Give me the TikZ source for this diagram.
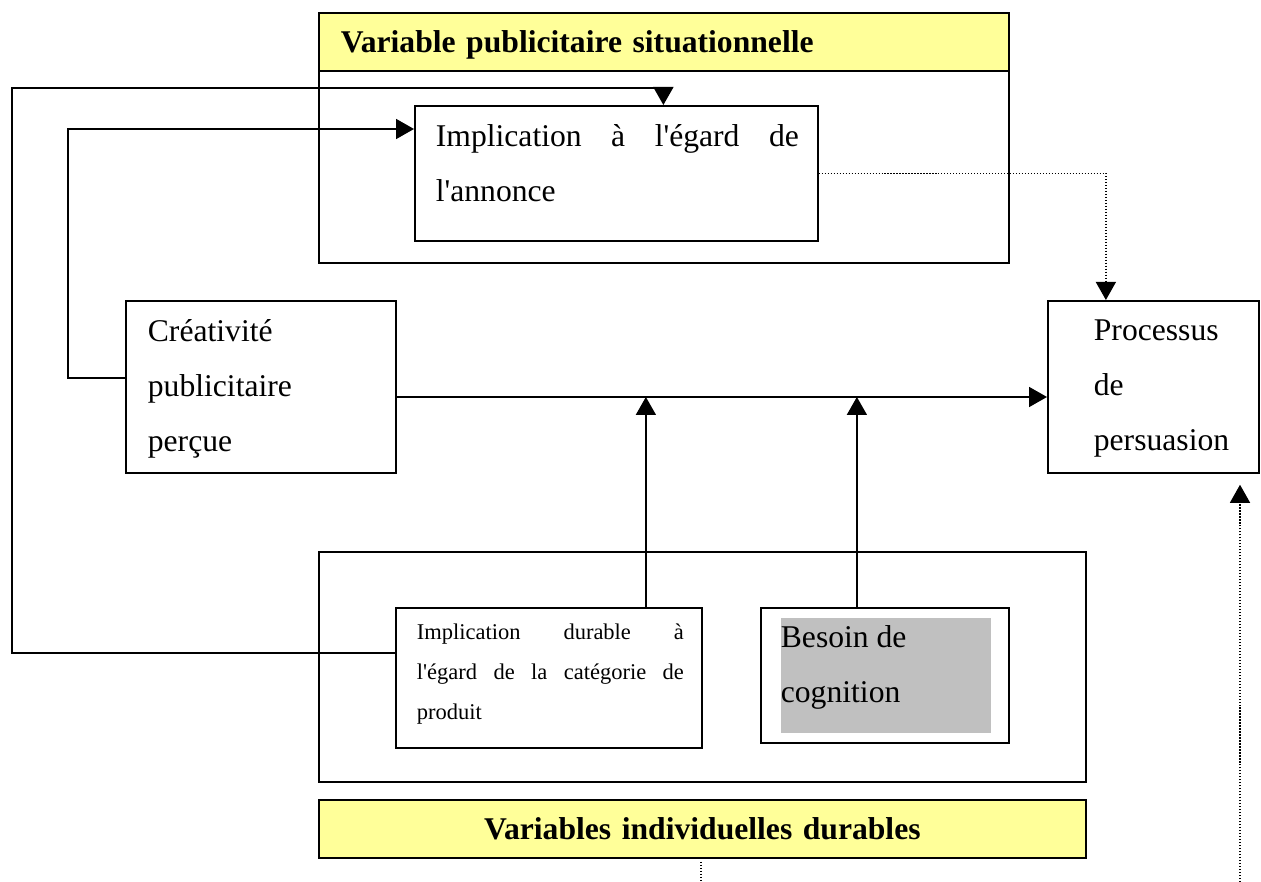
\documentclass[tikz,border=0pt]{standalone}
\usepackage{fontspec}
\setmainfont{Liberation Serif}
\usetikzlibrary{arrows.meta,positioning}
\definecolor{hdryellow}{RGB}{255,255,153}
\definecolor{hlgray}{RGB}{192,192,192}

\begin{document}
\begin{tikzpicture}[x=0.2mm, y=-0.2mm, line width=1pt,
  box/.style={draw, anchor=north west, inner sep=0pt},
  hdr/.style={box, fill=hdryellow, minimum height=11.6mm, inner xsep=4.4mm, text depth=0pt, font=\fontsize{18}{22}\selectfont\bfseries},
  txt/.style={anchor=north west, inner sep=0pt, align=left, font=\fontsize{18}{31.3}\selectfont},
  small/.style={txt, font=\fontsize{12.8}{22.8}\selectfont},
  arr/.style={-{Triangle[length=3.6mm, width=4mm]}},
  dots/.style={densely dotted, line width=0.7pt}]
\useasboundingbox (0,0) rectangle (1261,882);
% situational variable
\node[box, minimum width=138mm, minimum height=50mm] (sit) at (318,12) {};
\node[hdr, text width=129.2mm, align=left] (sithdr) at (318,12) {Variable publicitaire situationnelle};
\node[box, minimum width=80.6mm, minimum height=27mm] (annonce) at (414,105) {};
\node[txt, text width=72.6mm, align=justify] (annoncetxt) at (435,124) {Implication à l\textquotesingle égard de\linebreak l\textquotesingle annonce};
% creativity and persuasion
\node[box, minimum width=54mm, minimum height=34.4mm] (creat) at (125,300) {};
\node[txt] (creattxt) at (147,319) {Créativité\\publicitaire\\perçue};
\node[box, minimum width=42.2mm, minimum height=34.4mm] (proc) at (1047,300) {};
\node[txt] (proctxt) at (1093,319) {Processus\\de\\persuasion};
% individual variables
\node[box, minimum width=153.4mm, minimum height=46mm] (indiv) at (318,551) {};
\node[box, minimum width=61.2mm, minimum height=28mm] (durable) at (395,607) {};
\node[small, text width=53.4mm, align=justify] (durabletxt) at (416,623) {Implication durable à\linebreak l\textquotesingle égard de la catégorie de\linebreak produit};
\node[box, minimum width=49.6mm, minimum height=27mm] (besoin) at (760,607) {};
\node[box, draw=none, fill=hlgray, minimum width=42mm, minimum height=23mm] (besoinbg) at (780,617) {};
\node[txt] (besointxt) at (780,625) {Besoin de\\cognition};
\node[hdr, align=center, text width=144.6mm] (indivhdr) at (318,799) {Variables individuelles durables};
% connectors
\coordinate (fbA) at (12,653);
\coordinate (outerL) at (12,88);
\coordinate (innerB) at (68,378);
\coordinate (innerL) at (68,129);
\coordinate (mainrow) at (0,397);
\draw[arr] (durable.west |- fbA) -- (fbA) -- (outerL) -| ([xshift=9.4mm]annonce.north);
\draw[arr] (creat.west |- innerB) -- (innerB) -- (innerL) -- (annonce.west |- innerL);
\draw[arr] (creat.east |- mainrow) -- (proc.west |- mainrow);
\draw[arr] ([xshift=19.4mm]durable.north) coordinate (durup) -- (durup |- mainrow);
\draw[arr] ([xshift=-5.6mm]besoin.north) coordinate (besup) -- (besup |- mainrow);
\draw[dots, arr] (annonce.east) -| ([xshift=-9.5mm]proc.north);
% loose dotted ends
\coordinate (lowA) at (701,862);
\coordinate (lowB) at (701,882);
\coordinate (lowC) at (1240,882);
\draw[dots] (lowA) -- (lowB);
\draw[dots, arr] (lowC) -- ([yshift=-2.2mm]proc.south -| lowC);
\end{tikzpicture}
\end{document}
